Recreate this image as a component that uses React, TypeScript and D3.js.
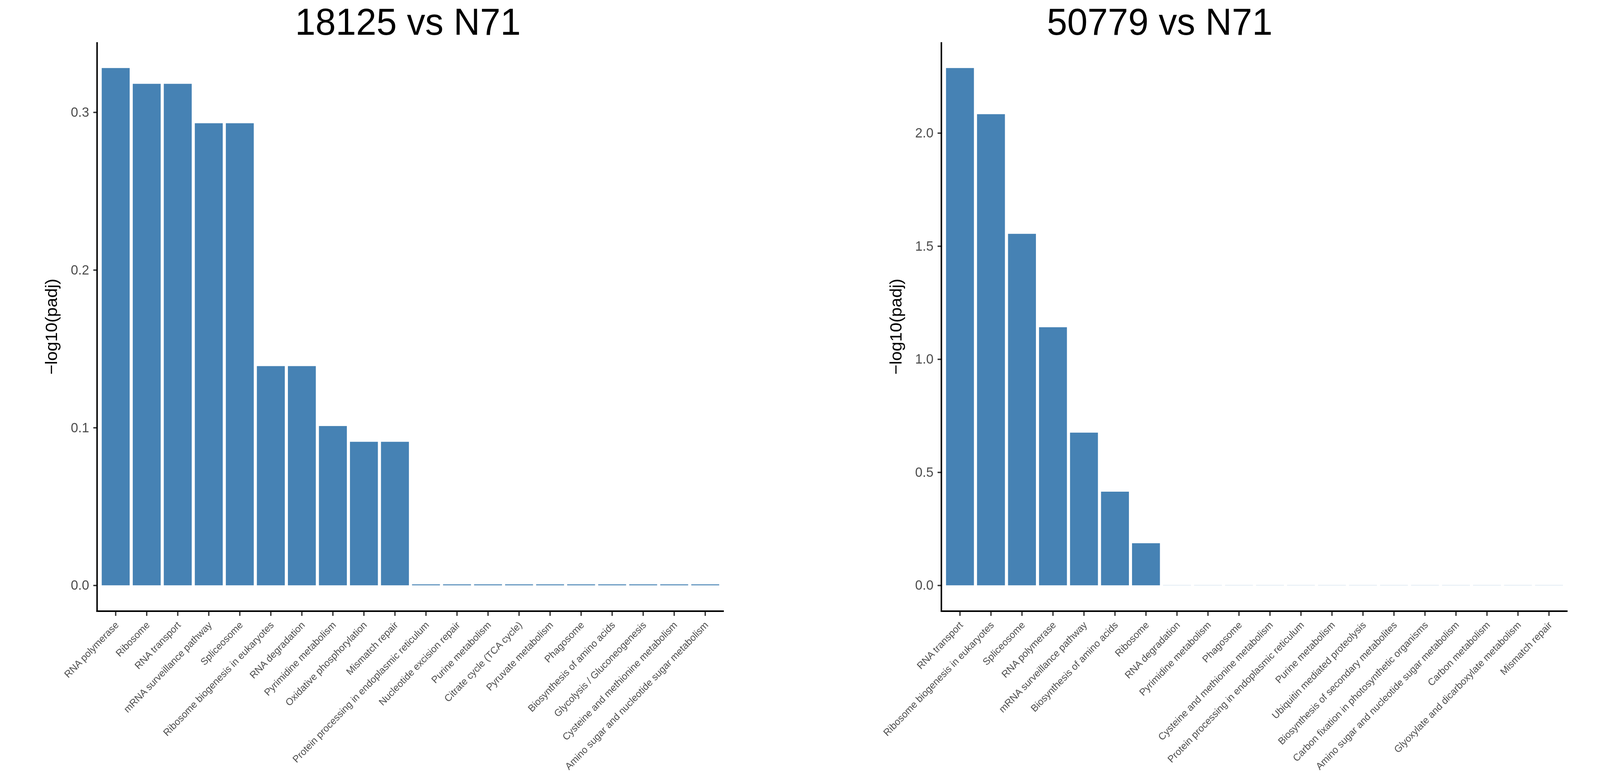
import * as d3 from "d3";
import { useEffect, useRef } from "react";

const W = 4244;
const H = 2005;
const FONT = "'Liberation Sans', Arial, Helvetica, sans-serif";

// 18125 vs N71
const leftTitle = "18125 vs N71";
const leftCategories = [
  "RNA polymerase",
  "Ribosome",
  "RNA transport",
  "mRNA surveillance pathway",
  "Spliceosome",
  "Ribosome biogenesis in eukaryotes",
  "RNA degradation",
  "Pyrimidine metabolism",
  "Oxidative phosphorylation",
  "Mismatch repair",
  "Protein processing in endoplasmic reticulum",
  "Nucleotide excision repair",
  "Purine metabolism",
  "Citrate cycle (TCA cycle)",
  "Pyruvate metabolism",
  "Phagosome",
  "Biosynthesis of amino acids",
  "Glycolysis / Gluconeogenesis",
  "Cysteine and methionine metabolism",
  "Amino sugar and nucleotide sugar metabolism",
];
const leftValues = [
  0.328, 0.318, 0.318, 0.293, 0.293, 0.139, 0.139, 0.101, 0.091, 0.091,
  0.0006, 0.0006, 0.0006, 0.0006, 0.0006, 0.0006, 0.0006, 0.0006, 0.0006, 0.0006,
];
const leftTicks = [0, 0.1, 0.2, 0.3];

// 50779 vs N71
const rightTitle = "50779 vs N71";
const rightCategories = [
  "RNA transport",
  "Ribosome biogenesis in eukaryotes",
  "Spliceosome",
  "RNA polymerase",
  "mRNA surveillance pathway",
  "Biosynthesis of amino acids",
  "Ribosome",
  "RNA degradation",
  "Pyrimidine metabolism",
  "Phagosome",
  "Cysteine and methionine metabolism",
  "Protein processing in endoplasmic reticulum",
  "Purine metabolism",
  "Ubiquitin mediated proteolysis",
  "Biosynthesis of secondary metabolites",
  "Carbon fixation in photosynthetic organisms",
  "Amino sugar and nucleotide sugar metabolism",
  "Carbon metabolism",
  "Glyoxylate and dicarboxylate metabolism",
  "Mismatch repair",
];
const rightValues = [
  2.287, 2.083, 1.554, 1.141, 0.675, 0.414, 0.186,
  0.0005, 0.0005, 0.0005, 0.0005, 0.0005, 0.0005, 0.0005, 0.0005, 0.0005, 0.0005,
  0.0005, 0.0005, 0.0005,
];
const rightTicks = [0, 0.5, 1, 1.5, 2];

const yTitle = "\u2212log10(padj)";

type Panel = {
  title: string;
  categories: string[];
  values: number[];
  ticks: number[];
  x0: number;
  x1: number;
  titleX: number;
  titleY: number;
  labelX: number;
};

const panels: Panel[] = [
  {
    title: leftTitle,
    categories: leftCategories,
    values: leftValues,
    ticks: leftTicks,
    x0: 257.5,
    x1: 1920,
    titleX: 1082,
    titleY: 89,
    labelX: 140,
  },
  {
    title: rightTitle,
    categories: rightCategories,
    values: rightValues,
    ticks: rightTicks,
    x0: 2497,
    x1: 4158,
    titleX: 3076,
    titleY: 89,
    labelX: 2380,
  },
];

function drawPanel(
  svg: d3.Selection<SVGSVGElement, unknown, null, undefined>,
  p: Panel
) {
  const top = 108;
  const axisY = 1565;

  const max = d3.max(p.values)!;
  const y = d3
    .scaleLinear()
    .domain([-0.05 * max, 1.05 * max])
    .range([axisY, top]);

  const x = d3
    .scaleBand()
    .domain(p.categories)
    .range([p.x0, p.x1])
    .paddingInner(0.1)
    .paddingOuter(0.15);

  const g = svg.append("g");

  // bars
  g.append("g")
    .selectAll("rect")
    .data(p.values)
    .join("rect")
    .attr("x", (_, i) => x(p.categories[i])!)
    .attr("y", (d) => y(d))
    .attr("width", x.bandwidth())
    .attr("height", (d) => y(0) - y(d))
    .attr("fill", "#4682B4");

  // y axis
  const ya = g
    .append("g")
    .attr("transform", `translate(${p.x0},0)`)
    .call(
      d3
        .axisLeft(y)
        .tickValues(p.ticks)
        .tickFormat(d3.format(".1f"))
        .tickSize(10)
        .tickPadding(11)
    );
  ya.select(".domain").remove();
  ya.selectAll(".tick line").attr("stroke", "#333333").attr("stroke-width", 3.5);
  ya.selectAll(".tick text")
    .attr("fill", "#4D4D4D")
    .attr("font-size", 35)
    .attr("font-family", FONT);

  // x axis
  const xa = g
    .append("g")
    .attr("transform", `translate(0,${axisY})`)
    .call(d3.axisBottom(x).tickSize(12).tickSizeOuter(0));
  xa.select(".domain").remove();
  xa.selectAll(".tick line").attr("stroke", "#333333").attr("stroke-width", 3.5);
  xa.selectAll(".tick text").remove();
  xa.selectAll<SVGGElement, string>(".tick")
    .append("text")
    .attr("transform", "translate(9.5,37) rotate(-45)")
    .attr("text-anchor", "end")
    .attr("fill", "#4D4D4D")
    .attr("font-size", 25.5)
    .attr("font-family", FONT)
    .text((d) => d);

  // axis lines
  g.append("line")
    .attr("x1", p.x0)
    .attr("x2", p.x0)
    .attr("y1", top)
    .attr("y2", axisY + 2)
    .attr("stroke", "#000")
    .attr("stroke-width", 4);
  g.append("line")
    .attr("x1", p.x0 - 2)
    .attr("x2", p.x1)
    .attr("y1", axisY)
    .attr("y2", axisY)
    .attr("stroke", "#000")
    .attr("stroke-width", 4);

  // y title
  g.append("text")
    .attr("transform", `translate(${p.labelX},${(top + axisY) / 2}) rotate(-90)`)
    .attr("text-anchor", "middle")
    .attr("dy", "0.26em")
    .attr("font-size", 44)
    .attr("font-family", FONT)
    .attr("fill", "#000")
    .text(yTitle);

  // title
  g.append("text")
    .attr("x", p.titleX)
    .attr("y", p.titleY)
    .attr("text-anchor", "middle")
    .attr("font-size", 97)
    .attr("font-family", FONT)
    .attr("fill", "#000")
    .text(p.title);
}

export default function App() {
  const ref = useRef<SVGSVGElement | null>(null);

  useEffect(() => {
    document.body.style.margin = "0";
    document.body.style.overflow = "hidden";
    if (!ref.current) return;
    const svg = d3.select(ref.current);
    svg.selectAll("*").remove();
    svg.append("rect").attr("width", W).attr("height", H).attr("fill", "#fff");
    panels.forEach((p) => drawPanel(svg, p));
  }, []);

  // fill the viewport whatever its css size is
  return (
    <svg
      ref={ref}
      viewBox={`0 0 ${W} ${H}`}
      preserveAspectRatio="none"
      style={{
        position: "fixed",
        left: 0,
        top: 0,
        width: "100vw",
        height: "100vh",
        display: "block",
      }}
    ></svg>
  );
}
